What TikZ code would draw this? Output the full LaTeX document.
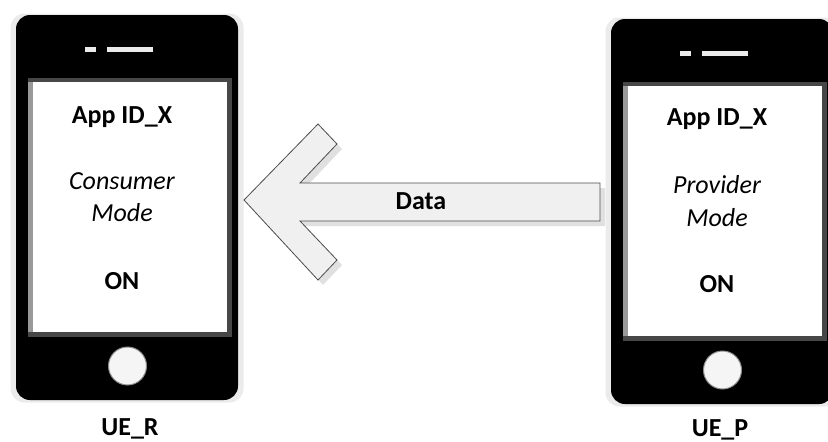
\documentclass[tikz,border=0pt]{standalone}
\usepackage{fontspec}
\setmainfont{Carlito}
\usepackage{tikz}
\usetikzlibrary{positioning}
\newcommand{\dataoutline}{(244,200) -- (318,124) -- (337,144) -- (300,183) -- (600,183) -- (600,221) -- (300,221) -- (337,260) -- (318,280) -- cycle}

\begin{document}
\begin{tikzpicture}[
  x=1pt, y=-1pt,
  body/.style={fill=black, rounded corners=14pt, minimum width=222pt, minimum height=385pt, inner sep=0pt},
  fringe/.style={fill=black!8, rounded corners=14pt, minimum width=233pt, minimum height=389pt, inner sep=0pt},
  rim/.style={fill=black!72, minimum width=204pt, minimum height=259pt, inner sep=0pt},
  stripe/.style={fill=black!40, minimum width=5pt, minimum height=250pt, inner sep=0pt},
  screen/.style={fill=white, minimum width=194pt, minimum height=250pt, inner sep=0pt},
  slot/.style={fill=black!8, minimum height=5pt, inner sep=0pt},
  homekey/.style={circle, fill=black!4, draw=black!45, line width=1pt, minimum size=38pt, inner sep=0pt},
  title/.style={font=\fontsize{26}{30}\selectfont\bfseries, align=center, inner sep=0pt},
  mode/.style={font=\fontsize{26}{32.5}\selectfont\itshape, align=center, inner sep=0pt}
]
  \useasboundingbox (0,0) rectangle (828,442);

  \foreach \dx/\dy/\nm in {0/0/R, 595/4/P} {
    \node[fringe] (fringe\nm) at (127+\dx,208+\dy) {};
    \node[body] (body\nm) at (127+\dx,207.5+\dy) {};
    \node[rim] (rim\nm) at (130+\dx,207.5+\dy) {};
    \node[stripe] (stripe\nm) at (30.5+\dx,207+\dy) {};
    \node[screen] (screen\nm) at (130+\dx,207+\dy) {};
    \node[slot, minimum width=11pt] (cam\nm) at (90.5+\dx,49.5+\dy) {};
    \node[slot, minimum width=46pt] (speaker\nm) at (130+\dx,49.5+\dy) {};
    \node[homekey] (key\nm) at (127.5+\dx,366+\dy) {};
  }

  \fill[black!12, shift={(5,5)}] \dataoutline;
  \draw[fill=black!6, draw=black!70, line width=0.8pt] \dataoutline;
  \node[title] (data) at (421,201) {Data};

  \node[title] (appR) at (122,117) {App ID\_X};
  \node[mode] (modeR) at (122,197) {Consumer\\Mode};
  \node[title] (onR) at (122,281) {ON};
  \node[title] (ueR) at (130,429) {UE\_R};

  \node[title] (appP) at (717,119) {App ID\_X};
  \node[mode] (modeP) at (717,201) {Provider\\Mode};
  \node[title] (onP) at (717,284) {ON};
  \node[title] (ueP) at (720,430) {UE\_P};
\end{tikzpicture}
\end{document}
